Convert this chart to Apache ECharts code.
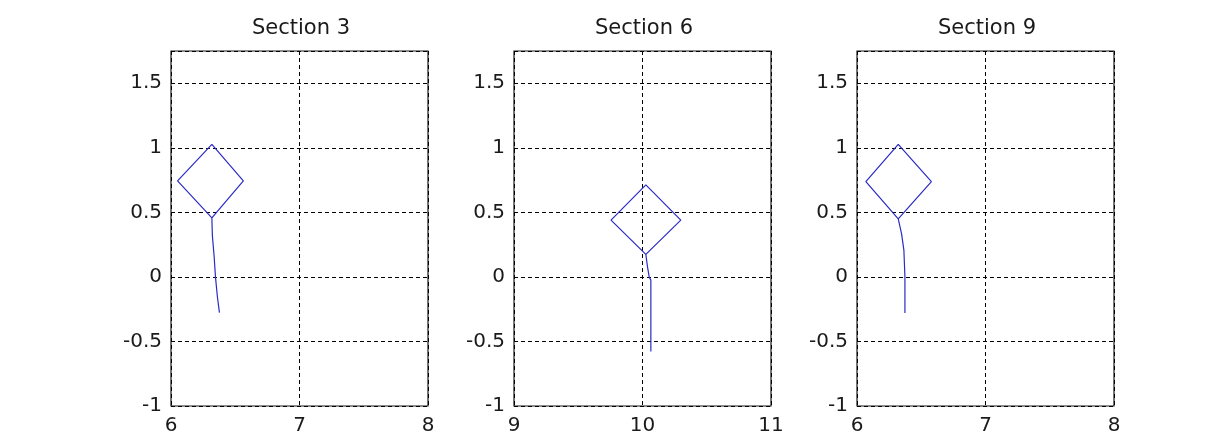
<!DOCTYPE html>
<html>
<head>
<meta charset="utf-8">
<script src="https://cdn.jsdelivr.net/npm/echarts@6/dist/echarts.min.js"></script>
<style>
html,body{margin:0;padding:0;background:#fff;}
#chart{width:1224px;height:441px;}
</style>
</head>
<body>
<div id="chart"></div>
<script>
// ---- data ----
const titles = ['Section 3', 'Section 6', 'Section 9'];
const xMins = [6, 9, 6];
const xMaxs = [8, 11, 8];
const yMin = -1, yMax = 1.75, yStep = 0.5;

// path: stem bottom -> diamond bottom -> right -> top -> left -> bottom
const s3x = [6.377, 6.361, 6.346, 6.336, 6.322, 6.318, 6.563, 6.318, 6.051, 6.318];
const s3y = [-0.277, -0.154, 0.0, 0.154, 0.32, 0.457, 0.744, 1.026, 0.744, 0.457];

const s6x = [10.065, 10.065, 10.052, 10.039, 10.026, 10.298, 10.026, 9.755, 10.026];
const s6y = [-0.577, -0.025, 0.0, 0.077, 0.175, 0.44, 0.713, 0.44, 0.175];

const s9x = [6.373, 6.373, 6.365, 6.347, 6.321, 6.579, 6.321, 6.069, 6.321];
const s9y = [-0.28, 0.0, 0.205, 0.334, 0.449, 0.738, 1.026, 0.738, 0.449];

const seriesX = [s3x, s6x, s9x];
const seriesY = [s3y, s6y, s9y];

// ---- layout ----
const gridLefts = [171, 514, 857];
const gridWidth = 257;
const gridTop = 51, gridHeight = 355;
const titleCenters = [296, 639, 982];

const font = 'DejaVu Sans';
const textColor = '#1a1a1a';
const lineColor = '#2a2ac8';

const grids = [], xAxes = [], yAxes = [], series = [], titleOpts = [];
for (let i = 0; i < 3; i++) {
  grids.push({
    left: gridLefts[i], top: gridTop, width: gridWidth, height: gridHeight,
    show: true, borderColor: '#1a1a1a', borderWidth: 1.2, backgroundColor: '#fff'
  });
  xAxes.push({
    type: 'value', gridIndex: i, min: xMins[i], max: xMaxs[i], interval: 1,
    axisLine: { show: false }, axisTick: { show: false },
    axisLabel: { color: textColor, fontFamily: font, fontSize: 20, margin: 10 },
    splitLine: { show: true, lineStyle: { color: '#000', type: [4, 3], width: 1 } }
  });
  yAxes.push({
    type: 'value', gridIndex: i, min: yMin, max: yMax, interval: yStep,
    axisLine: { show: false }, axisTick: { show: false },
    axisLabel: { color: textColor, fontFamily: font, fontSize: 20, margin: 9, showMaxLabel: false,
      formatter: v => (v === yMax ? '' : String(v)) },
    splitLine: { show: true, lineStyle: { color: '#000', type: [4, 3], width: 1 } }
  });
  series.push({
    type: 'line', xAxisIndex: i, yAxisIndex: i, showSymbol: false, symbol: 'none',
    lineStyle: { color: lineColor, width: 1.2 }, animation: false,
    data: seriesX[i].map((x, k) => [x, seriesY[i][k]])
  });
  titleOpts.push({
    text: titles[i], left: titleCenters[i], top: 13, textAlign: 'center',
    textStyle: { color: textColor, fontFamily: font, fontSize: 21, fontWeight: 'normal' }
  });
}

const chart = echarts.init(document.getElementById('chart'), null, { renderer: 'canvas' });
chart.setOption({
  animation: false,
  backgroundColor: '#fff',
  title: titleOpts,
  grid: grids,
  xAxis: xAxes,
  yAxis: yAxes,
  series: series
});
</script>
</body>
</html>
